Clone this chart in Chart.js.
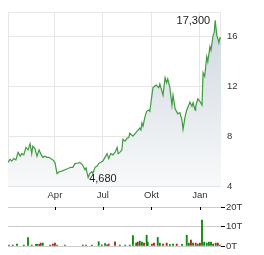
<!DOCTYPE html>
<html><head><meta charset="utf-8">
<script src="https://cdn.jsdelivr.net/npm/chart.js@4/dist/chart.umd.min.js"></script>
<style>
html,body{margin:0;padding:0;background:#fff;width:264px;height:255px;overflow:hidden}
#p{position:absolute;left:0;top:0}
#v{position:absolute;left:0;top:200px}
</style></head><body>
<canvas id="p" width="264" height="203"></canvas>
<canvas id="v" width="264" height="55"></canvas>
<script>
// day offsets since 2025-01-01
const priceDays = [1,5,8,12,16,20,24,27,31,35,39,43,46,48,52,56,60,63,67,71,75,79,82,86,90,94,98,103,109,115,120,124,128,134,
  137,141,143,147,149,153,156,160,162,166,170,173,177,181,185,189,192,196,200,204,208,210,213,217,219,223,227,230,232,238,242,246,251,253,
  255,257,261,264,268,270,274,276,282,287,289,291,295,299,302,304,308,312,314,318,323,327,331,333,337,340,344,346,350,352,356,357,361,365,
  369,371,374,378,380,384,386,390,392,394,397,399,401,403,405];
const prices = [5.9,6.15,6.0,6.2,6.1,6.7,6.4,6.6,6.5,7.1,6.9,7.4,6.6,7.2,7.0,6.4,6.9,6.6,6.3,6.4,6.3,6.3,6.2,6.1,5.9,5.0,5.15,5.2,5.3,5.4,5.5,5.5,5.8,5.85,
  5.9,5.75,5.65,5.3,5.45,4.68,5.0,5.15,5.0,5.5,5.6,5.8,5.9,6.0,6.3,6.6,6.2,6.6,6.5,6.7,7.1,6.6,6.7,6.9,7.75,7.6,7.85,7.9,8.25,8.0,8.2,8.4,8.65,8.5,
  9.05,8.8,9.6,10.0,10.1,10.0,11.3,11.9,12.1,11.9,12.2,11.9,11.3,12.7,12.3,12.6,11.9,10.5,11.3,10.2,9.8,9.9,9.3,8.55,9.6,10.1,10.5,10.75,10.4,10.7,10.1,10.4,11.0,10.8,
  10.5,13.1,12.8,14.4,14.0,15.2,14.9,16.1,16.3,17.3,16.1,15.85,15.5,15.9,15.85];
const tickDays = [90,181,273,365];
const tickLabels = ['Apr','Jul','Okt','Jan'];
const priceTicks = [4,8,12,16];
const volDays = [3,10,18,31,39,46,54,56,60,63,67,81,86,90,94,109,143,149,160,173,179,185,189,192,204,213,223,232,238,244,247,251,255,259,
  264,266,274,278,285,289,295,302,308,314,321,331,340,344,348,352,357,361,365,369,373,378,382,386,390,395,399,403];
const volumes = [0.5,0.5,1.0,0.5,4.3,0.5,0.8,0.8,0.8,1.5,1.5,0.5,1.0,1.5,0.5,0.5,0.5,0.5,0.5,2.2,0.6,1.2,0.6,1.0,2.2,0.5,0.5,0.5,5.3,1.5,2.0,2.5,2.0,1.5,
  5.5,2.0,1.0,1.5,4.4,1.5,1.0,1.5,0.8,1.0,1.0,0.8,5.5,1.5,3.0,1.5,1.5,1.0,1.5,13.3,2.0,1.5,2.0,2.0,1.0,1.5,1.5,0.5];
const volUp = [0,1,1,1,1,1,0,1,0,0,1,1,0,0,1,1,1,1,1,1,1,1,1,0,0,1,1,1,1,1,0,1,1,0,
  1,1,0,0,1,1,0,0,1,1,0,1,1,1,0,1,0,1,0,1,1,1,1,1,0,1,0,1];
const volTicks = [0,10,20];
const highText = '17,300';
const lowText = '4,680';

const FONT = 'Liberation Sans, Arial, sans-serif';
const xMin = 1, xMax = 405;

const framePlugin = {
  id:'frame',
  beforeDatasetsDraw(chart){
    const a = chart.chartArea, c = chart.ctx;
    c.save(); c.strokeStyle = '#e6e6e6'; c.lineWidth = 1;
    c.strokeRect(Math.round(a.left)+0.5, Math.round(a.top)+0.5, Math.round(a.right-a.left)-1, Math.round(a.bottom-a.top));
    c.restore();
  }
};
const extremaPlugin = {
  id:'extrema',
  afterDatasetsDraw(chart){
    const c = chart.ctx, xs = chart.scales.x, ys = chart.scales.y;
    let hi = 0, lo = 0;
    prices.forEach((v,i)=>{ if (v>prices[hi]) hi=i; if (v<prices[lo]) lo=i; });
    c.save();
    c.font = '11px ' + FONT; c.fillStyle = '#222'; c.textBaseline = 'middle';
    c.textAlign = 'right';
    c.fillText(highText, xs.getPixelForValue(priceDays[hi]) - 5, ys.getPixelForValue(prices[hi]) + 1);
    c.textAlign = 'left';
    c.fillText(lowText, xs.getPixelForValue(priceDays[lo]) + 1, ys.getPixelForValue(prices[lo]) + 1);
    c.restore();
  }
};

new Chart(document.getElementById('p'), {
  type:'line',
  data:{datasets:[{
    data: priceDays.map((d,i)=>({x:d, y:prices[i]})),
    borderColor:'#3f9c3f', borderWidth:1.2, pointRadius:0, tension:0,
    fill:'start',
    backgroundColor:(ctx)=>{
      const a = ctx.chart.chartArea; if(!a) return 'rgba(0,0,0,0)';
      const g = ctx.chart.ctx.createLinearGradient(0,a.top,0,a.bottom);
      g.addColorStop(0,'#cdd6de'); g.addColorStop(1,'#f8f9fa'); return g;
    }
  }]},
  options:{
    responsive:false, animation:false, devicePixelRatio:1,
    layout:{padding:{left:8,top:7,right:0,bottom:0}},
    plugins:{legend:{display:false},tooltip:{enabled:false}},
    scales:{
      x:{type:'linear', min:xMin, max:xMax,
        afterBuildTicks:s=>{ s.ticks = tickDays.map(v=>({value:v})); },
        ticks:{callback:(v,i)=>tickLabels[i], autoSkip:false, maxRotation:0, padding:4, color:'#333', font:{size:9.5, family:FONT}},
        grid:{color:'#e6e6e6', drawTicks:false}, border:{display:false},
        afterFit:s=>{ s.height = 17; }
      },
      y:{position:'right', min:4, max:18,
        afterBuildTicks:s=>{ s.ticks = priceTicks.map(v=>({value:v})); },
        ticks:{padding:6, color:'#333', font:{size:9.5, family:FONT}},
        grid:{color:'#e6e6e6', drawTicks:false}, border:{display:false},
        afterFit:s=>{ s.width = 43; }
      }
    }
  },
  plugins:[framePlugin, extremaPlugin]
});

const tickMarkPlugin = {
  id:'xticks',
  afterDraw(chart){
    const c = chart.ctx, xs = chart.scales.x, a = chart.chartArea;
    c.save(); c.fillStyle = '#000';
    tickDays.forEach(d=>{ c.fillRect(Math.round(xs.getPixelForValue(d)), Math.round(a.top), 1, 3); });
    c.restore();
  }
};

new Chart(document.getElementById('v'), {
  type:'bar',
  data:{datasets:[{
    data: volDays.map((d,i)=>({x:d, y:volumes[i]})),
    backgroundColor: volUp.map(u=> u ? '#0a8a0a' : '#b22222'),
    barThickness:1.2, borderWidth:0
  }]},
  options:{
    responsive:false, animation:false, devicePixelRatio:1,
    layout:{padding:{left:8,top:7,right:0,bottom:9}},
    plugins:{legend:{display:false},tooltip:{enabled:false}},
    scales:{
      x:{type:'linear', min:xMin, max:xMax, display:false, offset:false},
      y:{position:'right', min:0, max:20,
        afterBuildTicks:s=>{ s.ticks = volTicks.map(v=>({value:v})); },
        ticks:{padding:1, color:'#333', font:{size:9.5, family:FONT}, callback:v=>v+'T'},
        grid:{color:'#cccccc', tickColor:'#000', drawTicks:true, tickLength:4}, border:{display:false},
        afterFit:s=>{ s.width = 43; }
      }
    }
  },
  plugins:[tickMarkPlugin]
});
</script>
</body></html>
